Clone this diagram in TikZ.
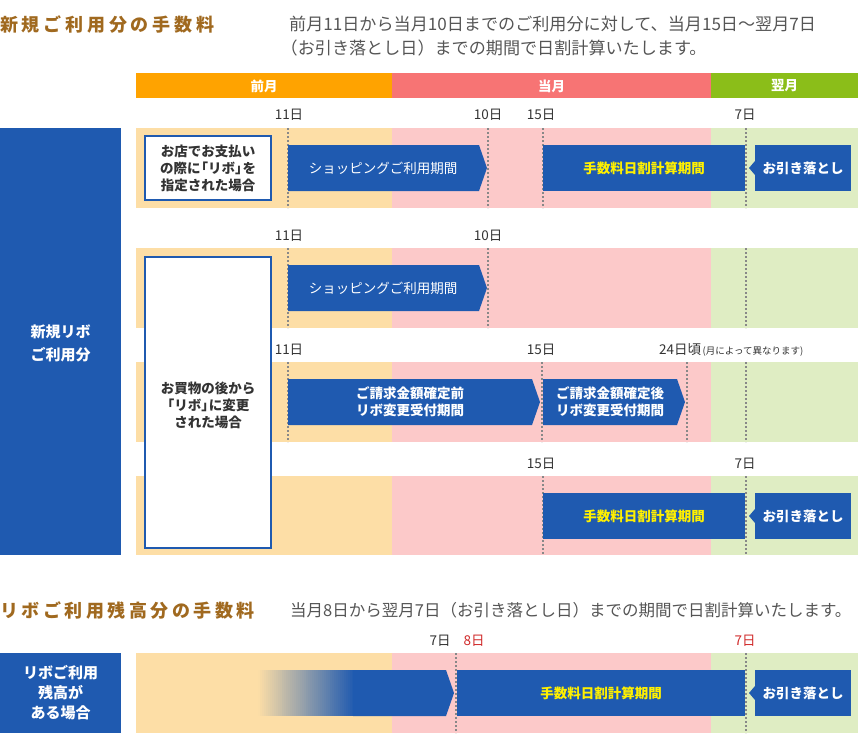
\documentclass[tikz,border=0pt]{standalone}
\usepackage{fontspec}
\setmainfont{Noto Sans CJK JP}
\definecolor{blu}{HTML}{1F5AB0}
\definecolor{hOr}{HTML}{FFA300}
\definecolor{hPk}{HTML}{F77474}
\definecolor{hGr}{HTML}{8BBE19}
\definecolor{lOr}{HTML}{FDDEA6}
\definecolor{lPk}{HTML}{FCC9C9}
\definecolor{lGr}{HTML}{DFEDC3}
\definecolor{ttl}{HTML}{A0691F}
\definecolor{dsc}{HTML}{555555}
\definecolor{lbl}{HTML}{333333}
\definecolor{redl}{HTML}{D02A2A}
\definecolor{ylw}{HTML}{FFF000}
\definecolor{dotc}{HTML}{888888}
\makeatletter
\newcommand\trk[2]{\def\trk@k{#1}\@tfor\trk@c:=#2\do{\trk@c\kern\trk@k}}
\makeatother
\newcommand\rarr[4]{\fill[blu] (#1,#3) -- ({#2-8},#3) -- (#2,{(#3+#4)/2}) -- ({#2-8},#4) -- (#1,#4) -- cycle;}
\newcommand\debit[3]{\fill[blu] (755,#1) rectangle (851,#2);
  \fill[blu] (755,{(#1+#2)/2-7}) -- (749,{(#1+#2)/2}) -- (755,{(#1+#2)/2+7}) -- cycle;
  \node[btxt,font=\bfseries\fontsize{13.5}{13.5}\selectfont] (#3) at (803,{(#1+#2)/2}) {お引き落とし};}
\begin{document}
\begin{tikzpicture}[x=1pt,y=-1pt,
  ttlst/.style={anchor=west,inner sep=0,text=ttl,font=\bfseries\fontsize{18}{18}\selectfont},
  dscst/.style={anchor=west,inner sep=0,text=dsc,font=\fontsize{17.1}{17.1}\selectfont},
  hdr/.style={inner sep=0,text=white,font=\bfseries\fontsize{13.5}{13.5}\selectfont},
  day/.style={inner sep=0,text=lbl,font=\fontsize{13.5}{13.5}\selectfont},
  redday/.style={day,text=redl},
  dotl/.style={draw=dotc,line width=1.5pt,dash pattern=on 2pt off 2pt},
  btxt/.style={inner sep=0,text=white,align=center},
  boxtxt/.style={inner sep=0,text=lbl,align=center,font=\bfseries\fontsize{13.5}{17}\selectfont},
  sidetxt/.style={inner sep=0,text=white,align=center},
  wbox/.style={draw=blu,line width=2pt,fill=white}]
\useasboundingbox (0,0) rectangle (858,733);
% titles
\node[ttlst] (t1) at (0,25) {\trk{3.8pt}{新規ご利用分の手数料}};
\node[dscst] (d1a) at (289,24) {前月11日から当月10日までのご利用分に対して、当月15日〜翌月7日};
\node[dscst] (d1b) at (289,48) {\hspace*{-8.5pt}（お引き落とし日）までの期間で日割計算いたします。};
% header
\fill[hOr] (136,73) rectangle (392,98);
\fill[hPk] (392,73) rectangle (711,98);
\fill[hGr] (711,73) rectangle (858,98);
\node[hdr] (h1) at (264,86) {前月};
\node[hdr] (h2) at (551.5,86) {当月};
\node[hdr] (h3) at (784.5,86) {翌月};
% row backgrounds
\foreach \yt/\yb in {128/208,248/328,362/442,476/555,653/733}{
  \fill[lOr] (136,\yt) rectangle (392,\yb);
  \fill[lPk] (392,\yt) rectangle (711,\yb);
  \fill[lGr] (711,\yt) rectangle (858,\yb);}
% side boxes
\fill[blu] (0,128) rectangle (121,555);
\node[sidetxt,font=\bfseries\fontsize{15}{23}\selectfont] (s1) at (60.5,343) {新規リボ\\ご利用分};
\fill[blu] (0,653) rectangle (121,733);
\node[sidetxt,font=\bfseries\fontsize{15}{20}\selectfont] (s2) at (60.5,693) {リボご利用\\残高が\\ある場合};
% dotted lines
\foreach \x in {288,488,543,746} \draw[dotl] (\x,128) -- (\x,208);
\foreach \x in {288,488,746} \draw[dotl] (\x,248) -- (\x,328);
\foreach \x in {288,542,687,746} \draw[dotl] (\x,362) -- (\x,442);
\foreach \x in {543,746} \draw[dotl] (\x,476) -- (\x,555);
\foreach \x in {456,746} \draw[dotl] (\x,653) -- (\x,733);
% day labels
\node[day] (r1a) at (289,115) {11日};
\node[day] (r1b) at (488,115) {10日};
\node[day] (r1c) at (541,115) {15日};
\node[day] (r1d) at (745,115) {7日};
\node[day] (r2a) at (289,236) {11日};
\node[day] (r2b) at (488,236) {10日};
\node[day] (r3a) at (289,350) {11日};
\node[day] (r3b) at (541,350) {15日};
\node[day,anchor=west] (r3c) at (659,350) {24日頃\kern1.5pt{\fontsize{9.5}{9.5}\selectfont(月によって異なります)}};
\node[day] (r4a) at (541,464) {15日};
\node[day] (r4b) at (745,464) {7日};
% row 1
\node[wbox,minimum width=126pt,minimum height=64pt,inner sep=0] (b1) at (208,168) {};
\node[boxtxt] (b1t) at (208,168) {お店でお支払い\\の際に\kern-6pt「リボ」\kern-6pt を\\指定された場合};
\rarr{288}{487}{145}{191}
\node[btxt,font=\fontsize{13.5}{13.5}\selectfont] (a1) at (383,168) {ショッピングご利用期間};
\fill[blu] (543,145) rectangle (745,191);
\node[btxt,text=ylw,font=\bfseries\fontsize{13.5}{13.5}\selectfont] (f1) at (644,168) {手数料日割計算期間};
\debit{145}{191}{g1}
% rows 2-4
\node[wbox,minimum width=126pt,minimum height=291pt,inner sep=0] (b2) at (208,402.5) {};
\node[boxtxt] (b2t) at (208,405) {お買物の後から\\\kern-6pt「リボ」\kern-6pt に変更\\された場合};
\rarr{288}{487}{265}{311}
\node[btxt,font=\fontsize{13.5}{13.5}\selectfont] (a2) at (383,288) {ショッピングご利用期間};
\rarr{288}{540}{379}{425}
\node[btxt,font=\bfseries\fontsize{13.5}{17}\selectfont] (a3) at (410,402) {ご請求金額確定前\\リボ変更受付期間};
\rarr{543}{685}{379}{425}
\node[btxt,font=\bfseries\fontsize{13.5}{17}\selectfont] (a4) at (610,402) {ご請求金額確定後\\リボ変更受付期間};
\fill[blu] (543,493) rectangle (745,539);
\node[btxt,text=ylw,font=\bfseries\fontsize{13.5}{13.5}\selectfont] (f2) at (644,516) {手数料日割計算期間};
\debit{493}{539}{g2}
% section 2
\node[ttlst] (t2) at (0,611) {\trk{3.5pt}{リボご利用残高分の手数料}};
\node[dscst,font=\fontsize{16.5}{16.5}\selectfont] (d2) at (290,610) {当月8日から翌月7日（お引き落とし日）までの期間で日割計算いたします。};
\node[day] (s2a) at (440,641) {7日};
\node[redday] (s2b) at (474,641) {8日};
\node[redday] (s2c) at (745,641) {7日};
\foreach \i in {0,...,47}{
  \pgfmathtruncatemacro\p{(\i+0.5)/48*100}
  \fill[blu!\p!lOr] ({258+2*\i},670) rectangle ({258+2*\i+2.4},716);}
\rarr{353}{454}{670}{716}
\fill[blu] (457,670) rectangle (745,716);
\node[btxt,text=ylw,font=\bfseries\fontsize{13.5}{13.5}\selectfont] (f3) at (601,693) {手数料日割計算期間};
\debit{670}{716}{g3}
\end{tikzpicture}
\end{document}
